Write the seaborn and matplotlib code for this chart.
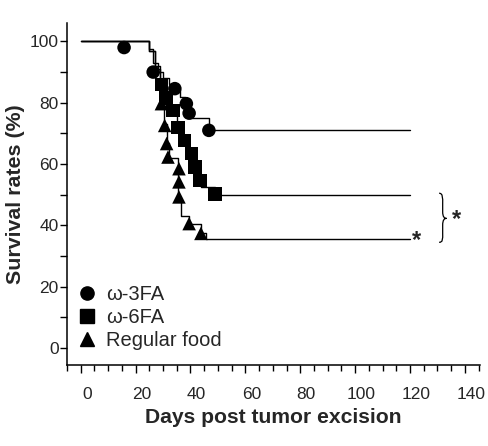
import numpy as np
import pandas as pd
import matplotlib
matplotlib.use("Agg")
import matplotlib.pyplot as plt
import matplotlib.transforms as mtransforms
from matplotlib.lines import Line2D
from matplotlib.path import Path
from matplotlib.patches import PathPatch
from matplotlib.ticker import MultipleLocator
import seaborn as sns

groups = ["ω-3FA", "ω-6FA", "Regular food"]

# Kaplan-Meier step curves (day, survival %)
w3_days = [0, 25, 26.5, 28, 30, 32, 34, 36, 38, 40, 46.7, 120]
w3_surv = [100, 97.5, 93, 90, 88, 86, 84, 82, 80, 75, 71, 71]
w6_days = [0, 25, 27, 29, 31, 33, 35, 37, 39, 41, 42.5, 44, 48.9, 120]
w6_surv = [100, 97, 92, 86, 82, 77, 72, 68, 63, 59, 55, 52.5, 50, 50]
rf_days = [0, 25, 27, 29, 30.5, 31.3, 32, 35.5, 36.7, 39.5, 43.8, 45.8, 120]
rf_surv = [100, 97, 91, 80, 73, 67, 62, 49, 43, 40.5, 37.5, 35.5, 35.5]

# symbols drawn on the curves
w3_mk_days = [15.8, 26.4, 34.3, 38.5, 39.5, 46.7]
w3_mk_surv = [98, 90, 84.6, 79.7, 76.6, 71]
w6_mk_days = [29.4, 31, 33.7, 35.5, 37.9, 40.4, 41.6, 43.4, 48.9]
w6_mk_surv = [86, 81.5, 77.5, 72, 67.7, 63.4, 59, 54.7, 50.2]
rf_mk_days = [29.4, 30.6, 31.3, 31.8, 35.8, 35.8, 35.8, 39.5, 43.8]
rf_mk_surv = [79.7, 72.6, 66.7, 62.3, 58.5, 54.2, 49.3, 40.6, 37.4]

lines = pd.concat([
    pd.DataFrame({"day": w3_days, "surv": w3_surv, "group": groups[0]}),
    pd.DataFrame({"day": w6_days, "surv": w6_surv, "group": groups[1]}),
    pd.DataFrame({"day": rf_days, "surv": rf_surv, "group": groups[2]}),
])
marks = pd.concat([
    pd.DataFrame({"day": w3_mk_days, "surv": w3_mk_surv, "group": groups[0]}),
    pd.DataFrame({"day": w6_mk_days, "surv": w6_mk_surv, "group": groups[1]}),
    pd.DataFrame({"day": rf_mk_days, "surv": rf_mk_surv, "group": groups[2]}),
])
markers = {"ω-3FA": "o", "ω-6FA": "s", "Regular food": "^"}

sns.set_style("ticks")
plt.rcParams["font.family"] = ["Liberation Sans", "DejaVu Sans"]

fig = plt.figure(figsize=(4.89, 4.46), dpi=100)
ax = fig.add_axes([67 / 489, 1 - 365 / 446, (480 - 67) / 489, (365 - 23) / 446])

sns.lineplot(data=lines, x="day", y="surv", hue="group", palette={g: "black" for g in groups},
             estimator=None, sort=False, drawstyle="steps-post", linewidth=1.0, legend=False, ax=ax)
sns.scatterplot(data=marks, x="day", y="surv", style="group", markers=markers, color="black",
                s=95, edgecolor="none", legend=False, ax=ax, zorder=3)

ax.set_xlim(-5, 145.5)
ax.set_ylim(-5.5, 106)
ax.xaxis.set_major_locator(MultipleLocator(20))
ax.xaxis.set_minor_locator(MultipleLocator(5))
ax.yaxis.set_major_locator(MultipleLocator(20))
ax.yaxis.set_minor_locator(MultipleLocator(10))
ax.tick_params(which="both", direction="out", color="black", width=1.0)
ax.tick_params(axis="x", which="major", length=6, labelsize=12.5, pad=10)
ax.tick_params(axis="x", which="minor", length=4)
ax.tick_params(axis="y", which="both", length=5, labelsize=12.5, pad=1)
for s in ["left", "bottom"]:
    ax.spines[s].set_linewidth(1.1)
    ax.spines[s].set_color("black")
sns.despine(ax=ax)

# x tick labels sit a little right of their ticks in the original
offset = mtransforms.ScaledTranslation(6 / 100, 0, fig.dpi_scale_trans)
for lab in ax.get_xticklabels():
    lab.set_transform(lab.get_transform() + offset)

ax.set_xlabel("Days post tumor excision", fontsize=15.2, fontweight="bold", labelpad=4)
ax.set_ylabel("Survival rates (%)", fontsize=15.4, fontweight="bold", labelpad=3)

handles = [Line2D([], [], linestyle="none", marker=markers[g], color="black",
                  markersize=9.5, label=g) for g in groups]
ax.legend(handles=handles, loc="upper left", bbox_to_anchor=(0.0, 0.27), frameon=False,
          fontsize=14.5, handlelength=0.8, handletextpad=0.55, labelspacing=0.2,
          borderaxespad=0.2)

# significance marks
ax.text(122.2, 35.2, "*", fontsize=17, fontweight="bold", ha="center", va="center")
verts = [(130.6, 50.5),
         (132.0, 50.5), (131.9, 49.0), (131.9, 47.0),
         (131.9, 44.5),
         (131.9, 42.8), (132.5, 42.3), (133.3, 42.3),
         (132.5, 42.3), (131.9, 41.8), (131.9, 40.1),
         (131.9, 37.5),
         (131.9, 35.5), (132.0, 34.5), (130.6, 34.5)]
codes = [Path.MOVETO,
         Path.CURVE4, Path.CURVE4, Path.CURVE4,
         Path.LINETO,
         Path.CURVE4, Path.CURVE4, Path.CURVE4,
         Path.CURVE4, Path.CURVE4, Path.CURVE4,
         Path.LINETO,
         Path.CURVE4, Path.CURVE4, Path.CURVE4]
ax.add_patch(PathPatch(Path(verts, codes), fill=False, lw=0.9, color="black", clip_on=False))
ax.text(136.8, 42.0, "*", fontsize=17, fontweight="bold", ha="center", va="center", clip_on=False)

fig.savefig("out.png", dpi=100)
